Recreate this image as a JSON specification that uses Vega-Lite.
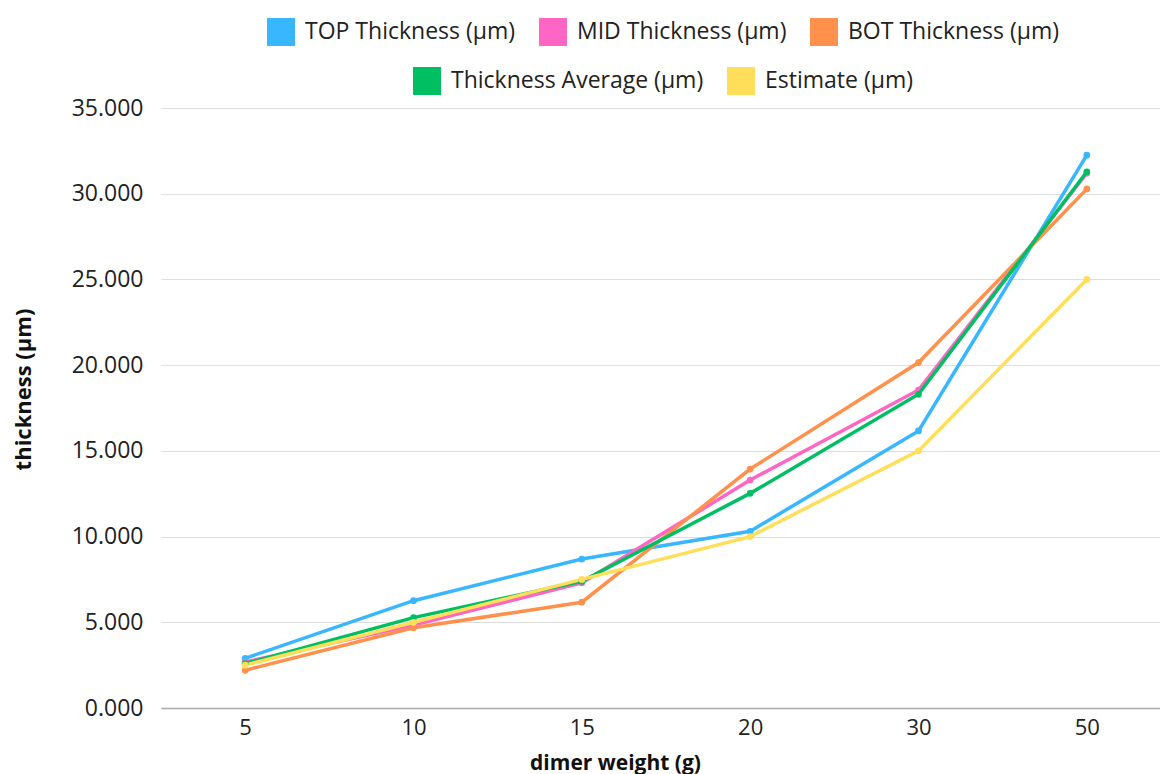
{
  "$schema": "https://vega.github.io/schema/vega-lite/v6.json",
  "autosize": {"type": "none"},
  "width": 1010,
  "height": 600,
  "padding": {"left": 161, "top": 108, "right": 0, "bottom": 66},
  "background": "white",
  "config": {
    "font": "Open Sans",
    "view": {"stroke": null},
    "axis": {"labelFont": "Open Sans", "titleFont": "Open Sans"}
  },
  "data": {
    "values": [
      {"w": "5", "series": "TOP Thickness (µm)", "grp": "A", "v": 2.90},
      {"w": "10", "series": "TOP Thickness (µm)", "grp": "A", "v": 6.26},
      {"w": "15", "series": "TOP Thickness (µm)", "grp": "A", "v": 8.69},
      {"w": "20", "series": "TOP Thickness (µm)", "grp": "A", "v": 10.31},
      {"w": "30", "series": "TOP Thickness (µm)", "grp": "A", "v": 16.16},
      {"w": "50", "series": "TOP Thickness (µm)", "grp": "A", "v": 32.25},
      {"w": "5", "series": "MID Thickness (µm)", "grp": "A", "v": 2.68},
      {"w": "10", "series": "MID Thickness (µm)", "grp": "A", "v": 4.84},
      {"w": "15", "series": "MID Thickness (µm)", "grp": "A", "v": 7.30},
      {"w": "20", "series": "MID Thickness (µm)", "grp": "A", "v": 13.30},
      {"w": "30", "series": "MID Thickness (µm)", "grp": "A", "v": 18.55},
      {"w": "50", "series": "MID Thickness (µm)", "grp": "A", "v": 31.20},
      {"w": "5", "series": "BOT Thickness (µm)", "grp": "A", "v": 2.20},
      {"w": "10", "series": "BOT Thickness (µm)", "grp": "A", "v": 4.68},
      {"w": "15", "series": "BOT Thickness (µm)", "grp": "A", "v": 6.17},
      {"w": "20", "series": "BOT Thickness (µm)", "grp": "A", "v": 13.94},
      {"w": "30", "series": "BOT Thickness (µm)", "grp": "A", "v": 20.15},
      {"w": "50", "series": "BOT Thickness (µm)", "grp": "A", "v": 30.28},
      {"w": "5", "series": "Thickness Average (µm)", "grp": "B", "v": 2.59},
      {"w": "10", "series": "Thickness Average (µm)", "grp": "B", "v": 5.27},
      {"w": "15", "series": "Thickness Average (µm)", "grp": "B", "v": 7.39},
      {"w": "20", "series": "Thickness Average (µm)", "grp": "B", "v": 12.52},
      {"w": "30", "series": "Thickness Average (µm)", "grp": "B", "v": 18.30},
      {"w": "50", "series": "Thickness Average (µm)", "grp": "B", "v": 31.28},
      {"w": "5", "series": "Estimate (µm)", "grp": "B", "v": 2.5},
      {"w": "10", "series": "Estimate (µm)", "grp": "B", "v": 5.0},
      {"w": "15", "series": "Estimate (µm)", "grp": "B", "v": 7.5},
      {"w": "20", "series": "Estimate (µm)", "grp": "B", "v": 10.0},
      {"w": "30", "series": "Estimate (µm)", "grp": "B", "v": 15.0},
      {"w": "50", "series": "Estimate (µm)", "grp": "B", "v": 25.0}
    ]
  },
  "encoding": {
    "x": {
      "field": "w", "type": "ordinal", "sort": ["5", "10", "15", "20", "30", "50"],
      "scale": {"type": "point", "padding": 0.5},
      "axis": {
        "title": "dimer weight (g)", "labelAngle": 0, "labelFontSize": 22, "labelColor": "#222222",
        "labelPadding": 9, "ticks": false, "domain": true, "domainColor": "#aaaaaa", "domainWidth": 1.5,
        "grid": false, "titleFontSize": 21, "titleFontWeight": "bold", "titleColor": "#111111",
        "titleY": 44, "titleX": 454, "titleAnchor": "middle", "titleBaseline": "top"
      }
    },
    "y": {
      "field": "v", "type": "quantitative",
      "scale": {"domain": [0, 35]},
      "axis": {
        "title": "thickness (µm)", "values": [0, 5, 10, 15, 20, 25, 30, 35], "format": ".3f",
        "labelFontSize": 23, "labelColor": "#222222", "labelPadding": 18, "ticks": false, "domain": false,
        "grid": true, "gridColor": "#dddddd", "gridWidth": 1.2,
        "titleFontSize": 22, "titleFontWeight": "bold", "titleColor": "#111111",
        "titleX": -138, "titleY": 281, "titleAngle": -90, "titleBaseline": "middle", "titleAnchor": "middle"
      }
    }
  },
  "layer": [
    {
      "transform": [{"filter": "datum.grp === 'A'"}],
      "encoding": {
        "color": {
          "field": "series", "type": "nominal",
          "scale": {"domain": ["TOP Thickness (µm)", "MID Thickness (µm)", "BOT Thickness (µm)"], "range": ["#38B6FF", "#FF66C4", "#FF914D"]},
          "legend": {
            "orient": "none", "legendX": 106, "legendY": -90, "direction": "horizontal", "title": null,
            "symbolType": "square", "symbolSize": 784, "symbolStrokeWidth": 0, "symbolOpacity": 1,
            "labelFontSize": 23, "labelColor": "#222222", "labelFont": "Open Sans", "labelOffset": 10,
            "columnPadding": 23, "padding": 0, "labelLimit": 400
          }
        }
      },
      "layer": [
        {"mark": {"type": "line", "strokeWidth": 3.5}},
        {"mark": {"type": "point", "filled": true, "size": 45, "opacity": 1}}
      ]
    },
    {
      "transform": [{"filter": "datum.grp === 'B'"}],
      "encoding": {
        "color": {
          "field": "series", "type": "nominal",
          "scale": {"domain": ["Thickness Average (µm)", "Estimate (µm)"], "range": ["#00BF63", "#FFDE59"]},
          "legend": {
            "orient": "none", "legendX": 252, "legendY": -41, "direction": "horizontal", "title": null,
            "symbolType": "square", "symbolSize": 784, "symbolStrokeWidth": 0, "symbolOpacity": 1,
            "labelFontSize": 23, "labelColor": "#222222", "labelFont": "Open Sans", "labelOffset": 10,
            "columnPadding": 23, "padding": 0, "labelLimit": 400
          }
        }
      },
      "layer": [
        {"mark": {"type": "line", "strokeWidth": 3.5}},
        {"mark": {"type": "point", "filled": true, "size": 45, "opacity": 1}}
      ]
    }
  ],
  "resolve": {"scale": {"color": "independent"}}
}
